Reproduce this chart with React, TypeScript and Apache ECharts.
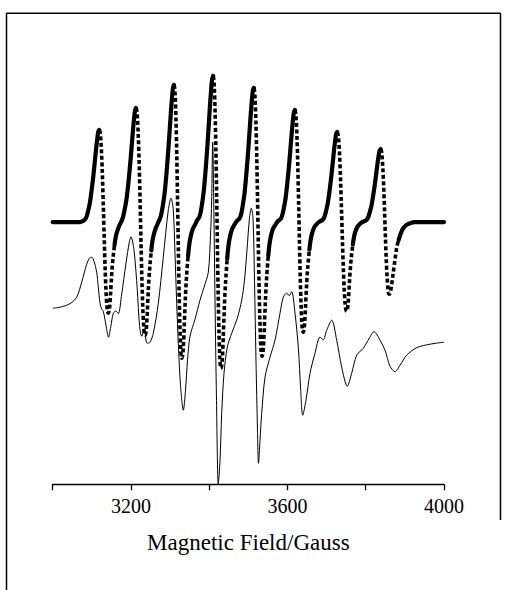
import React, { useEffect, useRef } from "react";
import * as echarts from "echarts";

// Simulated spectrum (dotted thick curve): field in Gauss, signal in arbitrary units
const simField = [
  3000, 3040, 3070, 3079, 3083, 3087, 3091, 3095, 3099, 3103, 3107, 3111, 3114, 3116.5, 3119,
  3121.3, 3123.6, 3125.9, 3128.2, 3130.5, 3132.8, 3135.1, 3137.4, 3139.7, 3142,
  3144.5, 3147, 3149, 3152, 3155, 3158, 3161, 3165, 3170, 3173, 3177, 3181, 3185, 3189, 3193, 3197, 3201, 3205, 3208, 3210.5, 3213,
  3215.3, 3217.6, 3219.9, 3222.2, 3224.5, 3226.8, 3229.1, 3231.4, 3233.7, 3236,
  3238.5, 3241, 3243, 3246, 3249, 3252, 3255, 3259, 3264, 3267, 3270, 3274, 3278, 3282, 3286, 3290, 3294, 3298, 3302, 3305, 3307.5, 3310,
  3312, 3314, 3316, 3318, 3320, 3322, 3324, 3326, 3328, 3330,
  3332.5, 3335, 3337, 3340, 3343, 3346, 3349, 3353, 3358, 3364, 3370, 3374, 3378, 3382, 3386, 3390, 3394, 3398, 3402, 3405, 3407.5, 3410,
  3412, 3414, 3416, 3418, 3420, 3422, 3424, 3426, 3428, 3430,
  3432.5, 3435, 3437, 3440, 3443, 3446, 3449, 3453, 3458, 3464, 3470, 3474, 3478, 3482, 3486, 3490, 3494, 3498, 3502, 3506, 3509, 3511.5, 3514,
  3516.1, 3518.2, 3520.3, 3522.4, 3524.5, 3526.6, 3528.7, 3530.8, 3532.9, 3535,
  3537.5, 3540, 3542, 3545, 3548, 3551, 3554, 3558, 3563, 3569, 3575, 3579, 3583, 3587, 3591, 3595, 3599, 3603, 3607, 3611, 3614, 3616.5, 3619,
  3621.1, 3623.2, 3625.3, 3627.4, 3629.5, 3631.6, 3633.7, 3635.8, 3637.9, 3640,
  3642.5, 3645, 3647, 3650, 3653, 3656, 3659, 3663, 3668, 3674, 3680, 3687, 3691, 3695, 3699, 3703, 3707, 3711, 3715, 3719, 3722, 3724.5, 3727,
  3729.4, 3731.8, 3734.2, 3736.6, 3739, 3741.4, 3743.8, 3746.2, 3748.6, 3751,
  3753.5, 3756, 3758, 3761, 3764, 3767, 3770, 3774, 3779, 3785, 3791, 3798, 3802, 3806, 3810, 3814, 3818, 3822, 3826, 3830, 3833, 3835.5, 3838,
  3840.2, 3842.4, 3844.6, 3846.8, 3849, 3851.2, 3853.4, 3855.6, 3857.8, 3860,
  3862.5, 3865, 3868, 3872, 3876, 3880, 3884, 3888, 3892, 3896, 3905, 3915, 3925, 4000,
];
const simSignal = [
  0, 0, 0, 1.5, 2.8, 6, 12, 19.3, 30.4, 43.2, 58, 73.6, 83.7, 90.2, 92,
  89.2, 78.2, 58.9, 32.2, 0, -31.9, -58.2, -77.4, -88.3, -91,
  -88.3, -77.4, -63.7, -45.5, -32.8, -22.8, -15, -9.1, -3.7, -1.3, 1.9, 7.1, 14.8, 23.9, 37.6, 53.6, 71.8, 91.2, 103.7, 111.7, 114,
  110.6, 96.9, 73, 39.9, 0, -39.6, -72.3, -96, -109.6, -113,
  -109.6, -96, -79.1, -56.5, -40.7, -28.3, -18.6, -11.3, -5.4, -2.9, 0, 3.3, 8.9, 17.8, 28.8, 45.2, 64.4, 86.3, 109.6, 124.7, 134.3, 137,
  132.9, 116.5, 87.7, 48, 0, -47.6, -87, -115.6, -131.9, -136,
  -131.9, -115.6, -95.2, -68, -49, -34, -22.4, -13.6, -6.8, -2.4, 2.5, 4.4, 9.5, 19, 30.7, 48.2, 68.6, 92, 116.8, 132.9, 143.1, 146,
  141.6, 124.1, 93.4, 51.1, 0, -51.1, -93.4, -124.1, -141.6, -146,
  -141.6, -124.1, -102.2, -73, -52.6, -36.5, -24.1, -14.6, -7.3, -2.9, 0.9, 2.3, 4, 8.7, 17.4, 28.1, 44.2, 63, 84.4, 107.2, 121.9, 131.3, 134,
  130, 113.9, 85.8, 46.9, 0, -46.9, -85.8, -113.9, -130, -134,
  -130, -113.9, -93.8, -67, -48.2, -33.5, -22.1, -13.4, -6.7, -2.7, 0.8, 1.9, 3.4, 7.3, 14.6, 23.5, 37, 52.6, 70.6, 89.6, 101.9, 109.8, 112,
  108.6, 95.2, 71.7, 39.2, 0, -38.5, -70.4, -93.5, -106.7, -110,
  -106.7, -93.5, -77, -55, -39.6, -27.5, -18.2, -11, -5.5, -2.2, 0, 1.5, 2.7, 5.9, 11.7, 18.9, 29.7, 42.3, 56.7, 72, 81.9, 88.2, 90,
  87.3, 76.5, 57.6, 31.5, 0, -31.2, -57, -75.7, -86.3, -89,
  -86.3, -75.7, -62.3, -44.5, -32, -22.3, -14.7, -8.9, -4.5, -1.8, 0, 1.2, 2.2, 4.7, 9.5, 15.3, 24.1, 34.3, 46, 58.4, 66.4, 71.5, 73,
  70.8, 62.1, 46.7, 25.6, 0, -25.2, -46.1, -61.2, -69.8, -72,
  -70.6, -65.5, -57.6, -45.4, -33.8, -23.8, -18, -13, -9, -6, -2.5, -0.8, 0, 0,
];

// Experimental spectrum (thin line)
const expField = [
  3000, 3018.7, 3044.2, 3061.3, 3074.1, 3086.9, 3094, 3099.7, 3105.5, 3112.4, 3116.5, 3120.9, 3125.2, 3129.3,
  3136.2, 3142.6, 3148.2, 3154.9, 3161.8, 3167.6, 3176.3, 3187.3, 3195.8, 3200.1, 3207.8, 3216.2, 3221.8,
  3227.4, 3234.1, 3241, 3248.7, 3257.1, 3269.9, 3282.6, 3295.4, 3302.3, 3308.2, 3312.5, 3316.9, 3321,
  3326.6, 3333.8, 3339.4, 3344.5, 3350.9, 3363.7, 3376.4, 3386.7, 3397.7, 3403.3, 3406.3, 3408.9, 3411.5,
  3414.8, 3418.6, 3423.2, 3427.6, 3431.9, 3437.8, 3446.2, 3457.5, 3471.8, 3483, 3490.2, 3496.5, 3502.9,
  3507.5, 3511.9, 3515.7, 3519.5, 3523.4, 3525.9, 3529.8, 3534.1, 3542.6, 3555.3, 3568.1, 3580.9, 3589.3,
  3598, 3604.6, 3610.8, 3619.2, 3627.7, 3633.8, 3638.9, 3647.3, 3657.6, 3670.3, 3683.1, 3691.5, 3700.2,
  3713, 3725.8, 3738.6, 3752.9, 3764.1, 3776.9, 3793.8, 3809.1, 3821.1, 3836.5, 3849.2, 3862, 3874.8,
  3887.5, 3904.7, 3930.2, 3964.2, 4000,
];
const expSignal = [
  -86, -85, -81.5, -75, -60, -42, -36, -35, -39, -50, -65, -81, -87, -89,
  -103, -115, -105, -91, -89, -91.5, -72, -41, -20, -14.7, -28, -68, -103,
  -114, -107, -121, -120, -111, -81, -35, 12, 24, 12, -31, -81, -121,
  -163, -188, -168, -138, -114, -97, -78, -65, -50, -13, 22, 80, 22,
  -78, -178, -262, -238, -191, -151, -125, -111, -96, -78, -58, -28, 4,
  14, 4, -58, -138, -208, -241, -218, -191, -155, -135, -118, -91, -75,
  -71, -73.5, -69.5, -91, -125, -168, -193, -178, -151, -131, -115, -117.5, -108,
  -98, -118, -145, -164, -151, -133, -126, -116, -109.5, -118, -128, -144, -149.5,
  -143, -133, -125.5, -122, -120,
];

const tickLabels = ["3200", "3600", "4000"];
const axisTitle = "Magnetic Field/Gauss";

function pairs(xs: number[], ys: number[]) {
  return xs.map((x, i) => [x, ys[i]]);
}

// Split the simulated curve: steep parts (peak -> trough -> recovery) dotted, the rest solid
function splitSimulated() {
  const pts = pairs(simField, simSignal);
  const ext: { i: number; kind: "max" | "min" }[] = [];
  for (let i = 1; i < pts.length - 1; i++) {
    const v = pts[i][1];
    if (v > 30 && v > pts[i - 1][1] && v >= pts[i + 1][1]) ext.push({ i, kind: "max" });
    if (v < -30 && v < pts[i - 1][1] && v <= pts[i + 1][1]) ext.push({ i, kind: "min" });
  }
  const solid: number[][][] = [];
  const dashed: number[][][] = [];
  let start = 0;
  for (let k = 0; k < ext.length - 1; k++) {
    if (ext[k].kind === "max" && ext[k + 1].kind === "min") {
      const p = ext[k].i;
      const t = ext[k + 1].i;
      let e = t;
      const limit = 0.3 * pts[t][1];
      while (e < pts.length - 1 && pts[e][1] < limit) e++;
      solid.push(pts.slice(start, p + 1));
      dashed.push(pts.slice(p, e + 1));
      start = e;
    }
  }
  solid.push(pts.slice(start));
  return { solid, dashed };
}

export default function App() {
  const ref = useRef<HTMLDivElement>(null);
  useEffect(() => {
    if (!ref.current) return;
    const chart = echarts.init(ref.current, undefined, { renderer: "svg" });
    const { solid, dashed } = splitSimulated();
    const series: any[] = [];
    solid.forEach((seg) =>
      series.push({
        type: "line",
        data: seg,
        showSymbol: false,
        smooth: 0.35,
        lineStyle: { color: "#000", width: 4.2, cap: "round", join: "round" },
        z: 2,
      })
    );
    dashed.forEach((seg) =>
      series.push({
        type: "line",
        data: seg,
        showSymbol: false,
        smooth: 0.35,
        lineStyle: { color: "#000", width: 3.6, type: [4, 2.5], cap: "butt" },
        z: 2,
      })
    );
    series.push({
      type: "line",
      data: pairs(expField, expSignal),
      showSymbol: false,
      smooth: 0.3,
      lineStyle: { color: "#000", width: 1 },
      z: 3,
    });
    chart.setOption({
      animation: false,
      backgroundColor: "#fff",
      grid: { left: 52.7, right: 64, top: 60, bottom: 105.7, containLabel: false },
      xAxis: {
        type: "value",
        min: 3000,
        max: 4000,
        interval: 200,
        axisLine: { show: true, onZero: false, lineStyle: { color: "#000", width: 1.3 } },
        axisTick: { show: true, inside: false, length: 6, lineStyle: { color: "#000", width: 1.3 } },
        axisLabel: {
          formatter: (v: number) => (tickLabels.includes(String(v)) ? String(v) : ""),
          color: "#000",
          fontFamily: "Liberation Serif",
          fontSize: 20,
          margin: 12,
        },
        splitLine: { show: false },
        name: axisTitle,
        nameLocation: "middle",
        nameGap: 47,
        nameTextStyle: { fontFamily: "Liberation Serif", fontSize: 23, color: "#000" },
      },
      yAxis: { type: "value", min: -262, max: 162, show: false },
      graphic: [
        { type: "line", shape: { x1: 6.5, y1: 13.3, x2: 500.5, y2: 13.3 }, style: { stroke: "#000", lineWidth: 1.5 } },
        { type: "line", shape: { x1: 6.5, y1: 13.3, x2: 6.5, y2: 590 }, style: { stroke: "#000", lineWidth: 1.5 } },
        { type: "line", shape: { x1: 500.5, y1: 13.3, x2: 500.5, y2: 520 }, style: { stroke: "#000", lineWidth: 1.5 } },
      ],
      series,
    });
    return () => chart.dispose();
  }, []);
  return (
    <div
      ref={ref}
      style={{ position: "fixed", left: 0, top: 0, width: 508, height: 590, background: "#fff" }}
    />
  );
}
